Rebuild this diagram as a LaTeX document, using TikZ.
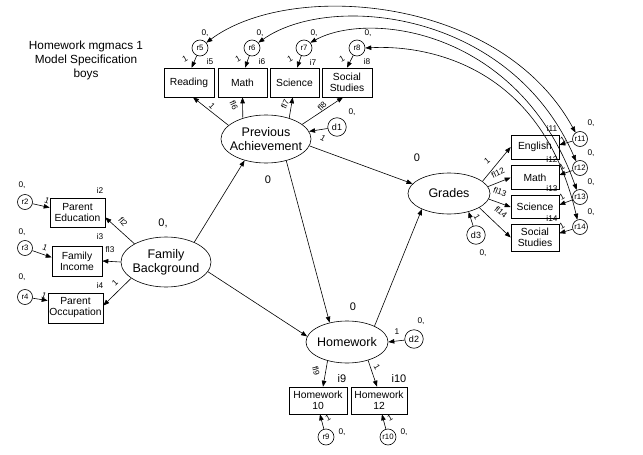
\documentclass[tikz,border=0pt]{standalone}
\usepackage{fontspec}
\setmainfont{Liberation Sans}
\usetikzlibrary{shapes.geometric,arrows.meta}
\begin{document}
\begin{tikzpicture}[x=1pt,y=-1pt,
  box/.style={draw, line width=0.6pt, rectangle, align=center, inner sep=0pt, font=\fontsize{10.3}{11}\selectfont},
  lat/.style={draw, line width=0.6pt, ellipse, align=center, inner xsep=-7pt, inner ysep=-1pt, font=\fontsize{12.5}{14}\selectfont},
  err/.style={draw, line width=0.6pt, circle, inner sep=0pt, minimum size=16pt, font=\fontsize{7.8}{8}\selectfont},
  derr/.style={err, minimum size=18.5pt, font=\fontsize{9}{9}\selectfont},
  lab/.style={inner sep=0pt, font=\fontsize{8.3}{9}\selectfont},
  labb/.style={inner sep=0pt, font=\fontsize{11}{12}\selectfont},
  arr/.style={-{Triangle[length=6pt,width=4.5pt]}, line width=0.6pt},
  cor/.style={{Triangle[length=6pt,width=4.5pt]}-{Triangle[length=6pt,width=4.5pt]}, line width=0.6pt}]
\useasboundingbox (0,0) rectangle (643,455);

% title
\node[align=center, inner sep=0pt, font=\fontsize{11.8}{14}\selectfont] (title) at (86,60) {Homework mgmacs 1\\Model Specification\\boys};

% latent variables
\node[lat, minimum width=90pt, minimum height=48pt] (pa) at (266,139) {Previous\\Achievement};
\node[lat, minimum width=90pt, minimum height=50pt] (fb) at (166,262) {Family\\Background};
\node[lat, minimum width=82pt, minimum height=41pt] (gr) at (449,193.5) {Grades};
\node[lat, minimum width=82pt, minimum height=42pt] (hw) at (347,342) {Homework};

% observed boxes
\node[box, minimum width=50pt, minimum height=29pt] (read) at (189,82.5) {Reading};
\node[box, minimum width=49pt, minimum height=29pt] (mathA) at (242.5,82.5) {Math};
\node[box, minimum width=49pt, minimum height=29pt] (sci) at (294.5,82.5) {Science};
\node[box, minimum width=50pt, minimum height=29pt] (soc) at (347,82.5) {Social\\Studies};
\node[box, minimum width=55pt, minimum height=29pt] (pe) at (77.5,212.5) {Parent\\Education};
\node[box, minimum width=50pt, minimum height=30pt] (fi) at (77,261) {Family\\Income};
\node[box, minimum width=55pt, minimum height=30pt] (po) at (75.5,308) {Parent\\Occupation};
\node[box, minimum width=48pt, minimum height=24pt] (eng) at (535,147) {English};
\node[box, minimum width=48pt, minimum height=24pt] (mathB) at (535,177.5) {Math};
\node[box, minimum width=48pt, minimum height=23pt] (sciB) at (535,207) {Science};
\node[box, minimum width=48pt, minimum height=27pt] (socB) at (535,237.5) {Social\\Studies};
\node[box, minimum width=58pt, minimum height=27pt] (hw10) at (318,400.5) {Homework\\10};
\node[box, minimum width=56pt, minimum height=27pt] (hw12) at (379,400.5) {Homework\\12};

% residuals
\node[err] (r5) at (200,48) {r5};
\node[err] (r6) at (252,48) {r6};
\node[err] (r7) at (304,48) {r7};
\node[err] (r8) at (357,48) {r8};
\node[err, minimum size=15pt] (r2) at (25,202) {r2};
\node[err, minimum size=15pt] (r3) at (25,248) {r3};
\node[err, minimum size=15pt] (r4) at (25,297) {r4};
\node[err, minimum size=15pt] (r11) at (580,139) {r11};
\node[err, minimum size=15pt] (r12) at (580,168) {r12};
\node[err, minimum size=15pt] (r13) at (580,197) {r13};
\node[err, minimum size=15pt] (r14) at (580,227) {r14};
\node[err] (r9) at (326,437) {r9};
\node[err] (r10) at (388,437) {r10};
\node[derr] (d1) at (337,127) {d1};
\node[derr] (d2) at (414,339) {d2};
\node[derr] (d3) at (476,235) {d3};

% residual arrows
\draw[arr] (r5) -- (read.80);
\draw[arr] (r6) -- (mathA.80);
\draw[arr] (r7) -- (sci.80);
\draw[arr] (r8) -- (soc.90);
\draw[arr] (r2) -- (pe.170);
\draw[arr] (r3) -- (fi.172);
\draw[arr] (r4) -- (po.165);
\draw[arr] (r11) -- (eng.5);
\draw[arr] (r12) -- (mathB.6);
\draw[arr] (r13) -- (sciB.5);
\draw[arr] (r14) -- (socB.10);
\draw[arr] (r9) -- (hw10.-82);
\draw[arr] (r10) -- (hw12.-78);
\draw[arr] (d1) -- (pa.10);
\draw[arr] (d2) -- (hw.east);
\draw[arr] (d3) -- (gr.-43);

% loadings
\draw[arr] (pa.160) -- (read.-75);
\draw[arr] (pa.138) -- (mathA.south);
\draw[arr] (pa.42) -- (sci.-97);
\draw[arr] (pa.22) -- (soc.-105);
\draw[arr] (fb.150) -- (pe.-10);
\draw[arr] (fb.west) -- (fi.east);
\draw[arr] (fb.-155) -- (po.5);
\draw[arr] (gr.20) -- (eng.west);
\draw[arr] (gr.10) -- (mathB.west);
\draw[arr] (gr.-8) -- (sciB.west);
\draw[arr] (gr.-25) -- (socB.west);
\draw[arr] (hw.-136) -- (hw10.70);
\draw[arr] (hw.-41) -- (hw12.98);

% structural paths
\draw[arr] (fb.35) -- (pa.-135);
\draw[arr] (fb.-13) -- (hw.172);
\draw[arr] (pa.-47) -- (hw.132);
\draw[arr] (pa.-9) -- (gr.165);
\draw[arr] (hw.30) -- (gr.-150);

% correlations
\draw[cor] (r5.40) .. controls (290,-20) and (500,-5) .. (r11.125);
\draw[cor] (r6.40) .. controls (330,-8) and (510,10) .. (r12.120);
\draw[cor] (r7.40) .. controls (370,10) and (520,30) .. (r13.115);
\draw[cor] (r8.east) .. controls (420,45) and (540,60) .. (r14.110);

% labels top row
\node[lab] (z5) at (205,33) {0,};
\node[lab] (z6) at (260,33) {0,};
\node[lab] (z7) at (314,33) {0,};
\node[lab] (z8) at (368,33) {0,};
\node[lab, rotate=30] (o5) at (185,59) {1};
\node[lab, rotate=30] (o6) at (238,59) {1};
\node[lab, rotate=30] (o7) at (290,59) {1};
\node[lab, rotate=30] (o8) at (342,59) {1};
\node[lab] (i5) at (210,62) {i5};
\node[lab] (i6) at (262,62) {i6};
\node[lab] (i7) at (313,62) {i7};
\node[lab] (i8) at (367,62) {i8};

% labels PA
\node[lab, rotate=-45] (lp1) at (212,106) {1};
\node[lab, rotate=-65] (lf6) at (234,105) {fl6};
\node[lab, rotate=65] (lf7) at (285,104) {fl7};
\node[lab, rotate=45] (lf8) at (322,106) {fl8};
\node[labb] (lpa0) at (268,180) {0};
\node[lab] (zd1) at (352,112) {0,};
\node[lab, rotate=-30] (od1) at (323,138) {1};

% labels FB
\node[labb] (lfb0) at (163,223) {0,};
\node[lab, rotate=-50] (lf2) at (123,222) {fl2};
\node[lab] (lf3) at (110,250) {fl3};
\node[lab, rotate=45] (lpo1) at (115,283) {1};
\node[lab] (z2) at (22,185) {0,};
\node[lab] (z3) at (22,232) {0,};
\node[lab] (z4) at (22,277) {0,};
\node[lab, rotate=-20] (o2) at (47,201) {1};
\node[lab, rotate=-20] (o3) at (45,248) {1};
\node[lab, rotate=-20] (o4) at (44,296) {1};
\node[lab] (i2) at (100,190) {i2};
\node[lab] (i3) at (100,237) {i3};
\node[lab] (i4) at (100,285) {i4};

% labels Grades
\node[labb] (lgr0) at (417,158) {0};
\node[lab, rotate=40] (lg1) at (487,161) {1};
\node[lab, rotate=25] (lf12) at (498,173) {fl12};
\node[lab, rotate=-20] (lf13) at (500,192) {fl13};
\node[lab, rotate=-40] (lf14) at (501,212) {fl14};
\node[lab, rotate=-60] (od3) at (477,217) {1};
\node[lab] (zd3) at (483,253) {0,};
\node[lab] (z11) at (591,123) {0,};
\node[lab] (z12) at (591,153) {0,};
\node[lab] (z13) at (591,182) {0,};
\node[lab] (z14) at (591,212) {0,};
\node[lab] (i11) at (552,128) {i11};
\node[lab] (i12) at (552,159) {i12};
\node[lab] (i13) at (552,189) {i13};
\node[lab] (i14) at (552,218) {i14};
\node[lab, rotate=30] (o11) at (563,140) {1};
\node[lab, rotate=30] (o12) at (562,167) {1};
\node[lab, rotate=30] (o13) at (562,197) {1};
\node[lab, rotate=30] (o14) at (562,226) {1};

% labels HW
\node[labb] (lhw0) at (353,307) {0};
\node[lab] (zd2) at (421,321) {0,};
\node[lab] (od2) at (397,332) {1};
\node[lab, rotate=-75] (lf9) at (316,371) {fl9};
\node[lab, rotate=-60] (lh1) at (377,367) {1};
\node[labb] (i9) at (342,379) {i9};
\node[labb] (i10) at (399,379) {i10};
\node[lab, rotate=30] (o9) at (328,418) {1};
\node[lab, rotate=30] (o10) at (390,418) {1};
\node[lab] (z9) at (342,432) {0,};
\node[lab] (z10) at (404,432) {0,};
\end{tikzpicture}
\end{document}
